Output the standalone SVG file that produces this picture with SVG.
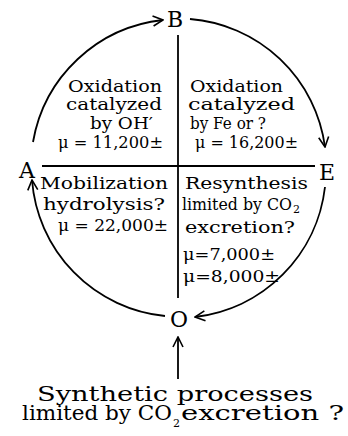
<svg xmlns="http://www.w3.org/2000/svg" width="348" height="436" viewBox="0 0 348 436">
<style>
text{font-family:"DejaVu Serif","Liberation Serif",serif;fill:#000}
.t{font-size:17px}
.b{font-size:21px}
.L{font-size:22px}
.s{font-size:11px}
.ln{fill:none;stroke:#000;stroke-width:1.8}
</style>
<defs>
<marker id="ah" viewBox="0 0 12 12" refX="11" refY="6" markerWidth="12" markerHeight="12" markerUnits="userSpaceOnUse" orient="auto">
<path d="M1,1 L11,6 L1,11" fill="none" stroke="#000" stroke-width="1.6"/>
</marker>
</defs>
<rect width="348" height="436" fill="#fff"/>
<g id="connectors">
<path class="ln" d="M33,142 A148,148 0 0 1 163,20" marker-end="url(#ah)"/>
<path class="ln" d="M190,19 A148,148 0 0 1 325,147" marker-end="url(#ah)"/>
<path class="ln" d="M325,187 A148,148 0 0 1 195,317" marker-end="url(#ah)"/>
<path class="ln" d="M165,316 A148,148 0 0 1 32,180" marker-end="url(#ah)"/>
<path class="ln" d="M178,379 L178,337" marker-end="url(#ah)"/>
<line class="ln" x1="178" y1="35" x2="178" y2="298"/>
<line class="ln" x1="42" y1="166" x2="315" y2="166"/>
</g>
<g id="B"><text class="L" x="175" y="27" text-anchor="middle">B</text></g>
<g id="A"><text class="L" x="27" y="178" text-anchor="middle">A</text></g>
<g id="E"><text class="L" x="327" y="180" text-anchor="middle">E</text></g>
<g id="O"><text class="L" x="179" y="327" text-anchor="middle">O</text></g>
<g id="q1">
<text class="t" x="68" y="92" textLength="94" lengthAdjust="spacingAndGlyphs">Oxidation</text>
<text class="t" x="66" y="110" textLength="96" lengthAdjust="spacingAndGlyphs">catalyzed</text>
<text class="t" x="90" y="129" textLength="63" lengthAdjust="spacingAndGlyphs">by OH′</text>
<text class="t" x="58" y="148" textLength="105" lengthAdjust="spacingAndGlyphs">μ = 11,200±</text>
</g>
<g id="q2">
<text class="t" x="190" y="92" textLength="93" lengthAdjust="spacingAndGlyphs">Oxidation</text>
<text class="t" x="188" y="110" textLength="107" lengthAdjust="spacingAndGlyphs">catalyzed</text>
<text class="t" x="190" y="129" textLength="76" lengthAdjust="spacingAndGlyphs">by Fe or ?</text>
<text class="t" x="195" y="148" textLength="103" lengthAdjust="spacingAndGlyphs">μ = 16,200±</text>
</g>
<g id="q3">
<text class="t" x="40" y="189" textLength="128" lengthAdjust="spacingAndGlyphs">Mobilization</text>
<text class="t" x="43" y="210" textLength="122" lengthAdjust="spacingAndGlyphs">hydrolysis?</text>
<text class="t" x="58" y="231" textLength="110" lengthAdjust="spacingAndGlyphs">μ = 22,000±</text>
</g>
<g id="q4">
<text class="t" x="185" y="189" textLength="123" lengthAdjust="spacingAndGlyphs">Resynthesis</text>
<text class="t" x="182" y="210"><tspan textLength="110" lengthAdjust="spacingAndGlyphs">limited by CO</tspan><tspan class="s" dx="1" dy="3">2</tspan></text>
<text class="t" x="185" y="233" textLength="110" lengthAdjust="spacingAndGlyphs">excretion?</text>
<text class="t" x="183" y="260" textLength="92" lengthAdjust="spacingAndGlyphs">μ=7,000±</text>
<text class="t" x="183" y="282" textLength="97" lengthAdjust="spacingAndGlyphs">μ=8,000±</text>
</g>
<g id="note">
<text class="b" x="37" y="401" textLength="276" lengthAdjust="spacingAndGlyphs">Synthetic  processes</text>
<text class="b" x="22" y="420"><tspan textLength="150" lengthAdjust="spacingAndGlyphs">limited by CO</tspan><tspan class="s" dx="1" dy="7">2</tspan><tspan dy="-7" dx="1" textLength="163" lengthAdjust="spacingAndGlyphs">excretion ?</tspan></text>
</g>
</svg>
